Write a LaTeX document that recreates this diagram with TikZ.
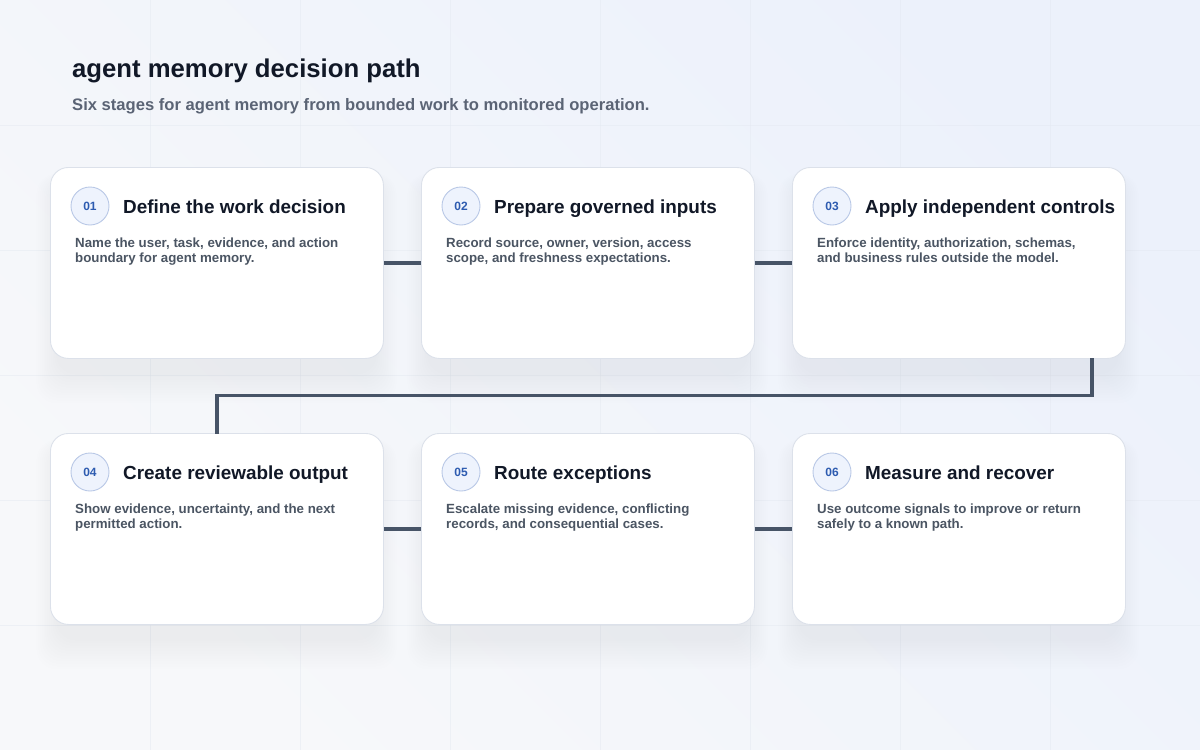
\documentclass[tikz,border=0pt]{standalone}
\usepackage{fontspec}
\setmainfont{Liberation Sans}
\usetikzlibrary{positioning,calc}
\definecolor{bgA}{HTML}{F7F8FA}
\definecolor{bgB}{HTML}{ECF1FB}
\definecolor{gridc}{HTML}{E3E8F0}
\definecolor{cardborder}{HTML}{DCE1EA}
\definecolor{shadowc}{HTML}{1E2A4A}
\definecolor{titlec}{HTML}{111827}
\definecolor{subc}{HTML}{5B6475}
\definecolor{descc}{HTML}{4B5563}
\definecolor{numc}{HTML}{2D5BB0}
\definecolor{numfill}{HTML}{EEF3FD}
\definecolor{numborder}{HTML}{B9C8E6}
\definecolor{linkc}{HTML}{475467}
\tikzset{
  card/.style={draw=cardborder, line width=0.9pt, fill=white, rounded corners=18pt,
    minimum width=333pt, minimum height=191pt, anchor=north west, inner sep=0pt},
  numbadge/.style={circle, draw=numborder, line width=0.9pt, fill=numfill, minimum size=38pt,
    inner sep=0pt, font=\fontsize{12}{14}\selectfont\bfseries, text=numc},
  cardtitle/.style={anchor=base west, inner sep=0pt, font=\fontsize{18.9}{23}\selectfont\bfseries, text=titlec},
  carddesc/.style={anchor=north west, inner sep=0pt, align=left,
    font=\fontsize{13.3}{15}\selectfont\bfseries, text=descc},
  link/.style={draw=linkc, line width=3.2pt},
}
\newcommand{\cardshadow}[2]{%
  \foreach \k in {1,...,12}{
    \fill[shadowc, fill opacity=0.0055, rounded corners=20pt]
      ($(#1,#2)+(-\k*1.8+8,14-\k*0.6)$) rectangle ++(317+\k*3.6,191+\k*3.2);
  }%
}
\begin{document}
\begin{tikzpicture}[x=1pt,y=-1pt]
\useasboundingbox (0,0) rectangle (1200,750);
\shade[left color=bgA, right color=bgB, shading angle=135] (0,0) rectangle (1200,750);
% grid
\foreach \gx in {150,300,...,1050} \draw[gridc, line width=0.6pt, opacity=0.45] (\gx,0) -- (\gx,750);
\foreach \gy in {125,250,...,625} \draw[gridc, line width=0.6pt, opacity=0.45] (0,\gy) -- (1200,\gy);
% heading
\node[anchor=base west, inner sep=0pt, font=\fontsize{25.7}{30}\selectfont\bfseries, text=titlec] (title) at (72,77) {agent memory decision path};
\node[anchor=base west, inner sep=0pt, font=\fontsize{16.6}{19}\selectfont\bfseries, text=subc] (subtitle) at (72,110) {Six stages for agent memory from bounded work to monitored operation.};
% shadows
\cardshadow{50}{167}\cardshadow{421}{167}\cardshadow{792}{167}
\cardshadow{50}{433}\cardshadow{421}{433}\cardshadow{792}{433}
% cards
\node[card] (c1) at (50,167) {};
\node[card] (c2) at (421,167) {};
\node[card] (c3) at (792,167) {};
\node[card] (c4) at (50,433) {};
\node[card] (c5) at (421,433) {};
\node[card] (c6) at (792,433) {};
% connectors
\draw[link] (c1.east) -- (c2.west);
\draw[link] (c2.east) -- (c3.west);
\draw[link] (c4.east) -- (c5.west);
\draw[link] (c5.east) -- (c6.west);
\draw[link] ([xshift=-34pt,yshift=0.5pt]c3.south east) -- ++(0,37) -| ([yshift=-0.5pt]c4.north);
% card contents
\foreach \c/\n/\t/\d in {
  c1/01/Define the work decision/{Name the user, task, evidence, and action\\boundary for agent memory.},
  c2/02/Prepare governed inputs/{Record source, owner, version, access\\scope, and freshness expectations.},
  c3/03/Apply independent controls/{Enforce identity, authorization, schemas,\\and business rules outside the model.},
  c4/04/Create reviewable output/{Show evidence, uncertainty, and the next\\permitted action.},
  c5/05/Route exceptions/{Escalate missing evidence, conflicting\\records, and consequential cases.},
  c6/06/Measure and recover/{Use outcome signals to improve or return\\safely to a known path.}}{
  \node[numbadge] (\c n) at ($(\c.north west)+(40,39)$) {\n};
  \node[cardtitle] (\c t) at ($(\c.north west)+(73,46)$) {\t};
  \node[carddesc] (\c d) at ($(\c.north west)+(25,70.5)$) {\d};
}
\end{tikzpicture}
\end{document}
